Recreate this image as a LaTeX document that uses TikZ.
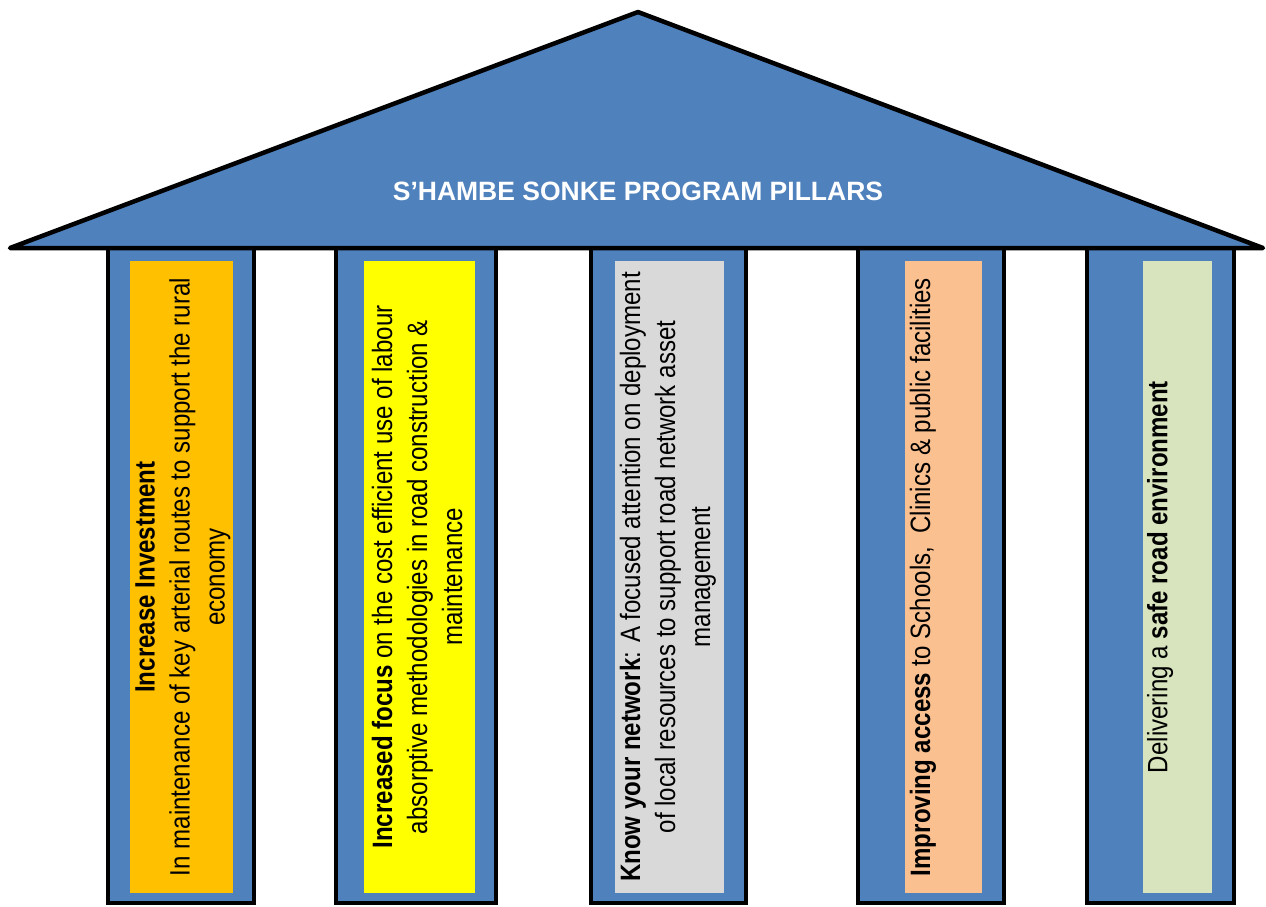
\documentclass[tikz,border=0pt]{standalone}
\usepackage{fontspec}
\setmainfont{Liberation Sans}
\newfontfamily\narrowfont{Liberation Sans}[FakeStretch=0.86]
\usepackage{tikz}

\definecolor{roofblue}{HTML}{4F81BD}
\definecolor{pillarA}{HTML}{FFC000}
\definecolor{pillarB}{HTML}{FFFF00}
\definecolor{pillarC}{HTML}{D9D9D9}
\definecolor{pillarD}{HTML}{FAC090}
\definecolor{pillarE}{HTML}{D7E4BD}

\tikzset{
  roof/.style={draw=black, fill=roofblue, line width=4.5pt, line join=round},
  pillar/.style={draw=black, fill=roofblue, line width=4pt},
  pillartext/.style={rotate=90, align=center, inner sep=0pt,
    font=\narrowfont\fontsize{28}{35}\selectfont}
}

\begin{document}
\begin{tikzpicture}[x=1pt, y=-1pt]
\useasboundingbox (0,0) rectangle (1266,906);

% Draw pillars with their coloured panels
\foreach \xl/\xr/\il/\ir/\col in {108/254/130/233/pillarA, 336/496/364/475/pillarB,
    591/746/615/724/pillarC, 858/1004/905/982/pillarD, 1087/1234/1143/1212/pillarE} {
    \draw[pillar] (\xl,248) rectangle (\xr,903);
    \fill[\col] (\il,261) rectangle (\ir,893);
}

% Draw roof
\coordinate (eaveL) at (10,248);
\coordinate (apex) at (638,12);
\coordinate (eaveR) at (1263,248);
\draw[roof] (eaveL) -- (apex) -- (eaveR) -- cycle;
\node[text=white, font=\bfseries\fontsize{26.5}{30}\selectfont] (title) at (638,191)
    {S’HAMBE SONKE PROGRAM PILLARS};

% Pillar texts
\node[pillartext] (invest) at (183,577)
    {\textbf{Increase Investment}\\In maintenance of key arterial routes to support the rural\\economy};
\node[pillartext] (focus) at (417,577)
    {\textbf{Increased focus} on the cost efficient use of labour\\absorptive methodologies in road construction \&\\maintenance};
\node[pillartext] (network) at (668,577)
    {\textbf{Know your network}: A focused attention on deployment\\of local resources to support road network asset\\management};
\node[pillartext] (access) at (923,577)
    {\textbf{Improving access} to Schools,\ \ Clinics \& public facilities};
\node[pillartext] (safe) at (1160,577)
    {Delivering a \textbf{safe road environment}};
\end{tikzpicture}
\end{document}
